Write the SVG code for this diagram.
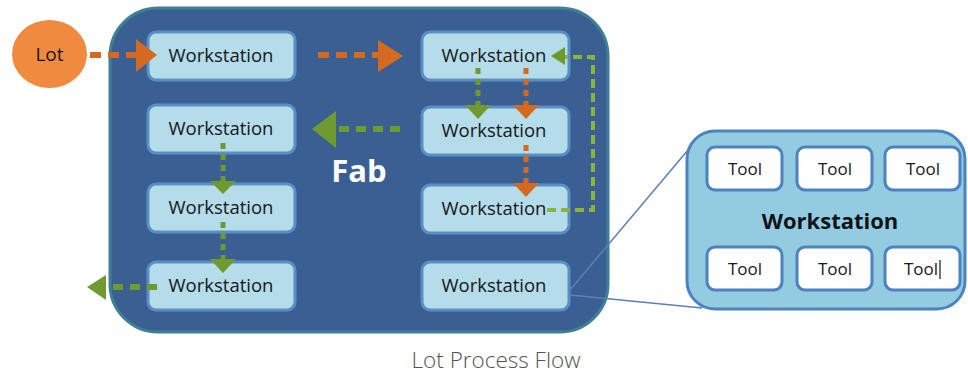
<svg xmlns="http://www.w3.org/2000/svg" width="968" height="374" viewBox="0 0 968 374">
  <style>
    .ws { fill: #b4dce9; stroke: #5a8fc6; stroke-width: 3; }
    .ws-label { font-family: "Open Sans", "Noto Sans", sans-serif; font-size: 18.5px; fill: #15171c; text-anchor: middle; }
    .tool { fill: #ffffff; stroke: #4d82c0; stroke-width: 3; }
    .tool-label { font-family: "Open Sans", "Noto Sans", sans-serif; font-size: 17px; fill: #15171c; text-anchor: middle; }
    .or-line { fill: none; stroke: #d4691f; stroke-width: 6; stroke-dasharray: 11 7; }
    .or-dot { fill: none; stroke: #d4691f; stroke-width: 5; stroke-dasharray: 6 5; }
    .or-head { fill: #d4691f; }
    .gr-line { fill: none; stroke: #6f9a30; stroke-width: 6; stroke-dasharray: 10 7; }
    .gr-dot { fill: none; stroke: #6f9a30; stroke-width: 5; stroke-dasharray: 6 5; }
    .gr-loop { fill: none; stroke: #8bb43a; stroke-width: 4; stroke-dasharray: 9 5; }
    .gr-head { fill: #6f9a30; }
    .callout { fill: none; stroke: #5b7fb8; stroke-width: 1.5; }
  </style>

  <!-- Fab container -->
  <g id="fab">
    <rect x="110" y="8" width="498" height="324" rx="48" fill="#3a5f92" stroke="#3f8096" stroke-width="3"/>
    <text x="359" y="182" font-family="Open Sans, Noto Sans, sans-serif" font-size="31" font-weight="bold" fill="#ffffff" text-anchor="middle">Fab</text>
  </g>

  <!-- Lot -->
  <g id="lot">
    <ellipse cx="49.5" cy="54" rx="37.5" ry="34" fill="#f08a3e"/>
    <text x="49.5" y="61" font-family="Open Sans, Noto Sans, sans-serif" font-size="19" fill="#15171c" text-anchor="middle">Lot</text>
  </g>

  <!-- Workstations, left column -->
  <g id="ws-l1"><rect class="ws" x="148" y="32" width="147" height="48" rx="8"/><text class="ws-label" x="221" y="62">Workstation</text></g>
  <g id="ws-l2"><rect class="ws" x="148" y="105" width="147" height="48" rx="8"/><text class="ws-label" x="221" y="135">Workstation</text></g>
  <g id="ws-l3"><rect class="ws" x="148" y="184" width="147" height="48" rx="8"/><text class="ws-label" x="221" y="214">Workstation</text></g>
  <g id="ws-l4"><rect class="ws" x="148" y="262" width="147" height="48" rx="8"/><text class="ws-label" x="221" y="292">Workstation</text></g>

  <!-- Workstations, right column -->
  <g id="ws-r1"><rect class="ws" x="422" y="32" width="147" height="48" rx="8"/><text class="ws-label" x="494" y="62">Workstation</text></g>
  <g id="ws-r2"><rect class="ws" x="422" y="107" width="147" height="48" rx="8"/><text class="ws-label" x="494" y="137">Workstation</text></g>
  <g id="ws-r3"><rect class="ws" x="422" y="185" width="147" height="48" rx="8"/><text class="ws-label" x="494" y="215">Workstation</text></g>
  <g id="ws-r4"><rect class="ws" x="422" y="262" width="147" height="48" rx="8"/><text class="ws-label" x="494" y="292">Workstation</text></g>

  <!-- Workstation detail -->
  <g id="ws-detail">
    <rect x="687" y="131" width="278" height="178" rx="28" fill="#93cce0" stroke="#4d82c0" stroke-width="3"/>
    <text x="830" y="229" font-family="Open Sans, Noto Sans, sans-serif" font-size="22" font-weight="bold" fill="#111318" text-anchor="middle">Workstation</text>
    <g id="tool-1"><rect class="tool" x="707" y="147" width="75" height="43" rx="8"/><text class="tool-label" x="745" y="175">Tool</text></g>
    <g id="tool-2"><rect class="tool" x="797" y="147" width="75" height="43" rx="8"/><text class="tool-label" x="835" y="175">Tool</text></g>
    <g id="tool-3"><rect class="tool" x="885" y="147" width="75" height="43" rx="8"/><text class="tool-label" x="923" y="175">Tool</text></g>
    <g id="tool-4"><rect class="tool" x="707" y="247" width="75" height="43" rx="8"/><text class="tool-label" x="745" y="275">Tool</text></g>
    <g id="tool-5"><rect class="tool" x="797" y="247" width="75" height="43" rx="8"/><text class="tool-label" x="835" y="275">Tool</text></g>
    <g id="tool-6"><rect class="tool" x="885" y="247" width="75" height="43" rx="8"/><text class="tool-label" x="921" y="275">Tool</text>
      <line x1="940" y1="260" x2="940" y2="279" stroke="#15171c" stroke-width="1.2"/></g>
  </g>

  <!-- Connectors -->
  <g id="connectors">
    <!-- Lot into the fab -->
    <path class="or-line" d="M90,55 H137"/>
    <polygon class="or-head" points="136,39 157,55 136,72"/>
    <!-- across the top row -->
    <path class="or-line" d="M318,55 H378"/>
    <polygon class="or-head" points="378,40 403,56 378,72"/>
    <!-- right column: down to second station -->
    <path class="gr-dot" d="M478,68 V108"/>
    <polygon class="gr-head" points="465,105 491,105 478,119"/>
    <path class="or-dot" d="M526,68 V108"/>
    <polygon class="or-head" points="513,105 539,105 526,119"/>
    <path class="or-dot" d="M526,145 V185"/>
    <polygon class="or-head" points="513,183 539,183 526,197"/>
    <!-- rework loop back to top station -->
    <path class="gr-loop" d="M547,210 H593 V57 H562"/>
    <polygon class="gr-head" points="565,47 551,56 565,65"/>
    <!-- across to the left column -->
    <path class="gr-line" d="M400,129 H333"/>
    <polygon class="gr-head" points="336,111 312,129 336,148"/>
    <!-- left column downward -->
    <path class="gr-dot" d="M223,143 V183"/>
    <polygon class="gr-head" points="210,181 236,181 223,194"/>
    <path class="gr-dot" d="M223,222 V262"/>
    <polygon class="gr-head" points="210,259 236,259 223,273"/>
    <!-- exit from the fab -->
    <path class="gr-line" d="M157,287 H104"/>
    <polygon class="gr-head" points="106,275 87,287 106,300"/>
    <!-- detail callout -->
    <path class="callout" d="M570,290 L688,150"/>
    <path class="callout" d="M570,295 L702,308"/>
  </g>

  <text x="496" y="368" font-family="Open Sans, Noto Sans, sans-serif" font-size="22.5" font-weight="300" fill="#50554f" text-anchor="middle">Lot Process Flow</text>
</svg>
